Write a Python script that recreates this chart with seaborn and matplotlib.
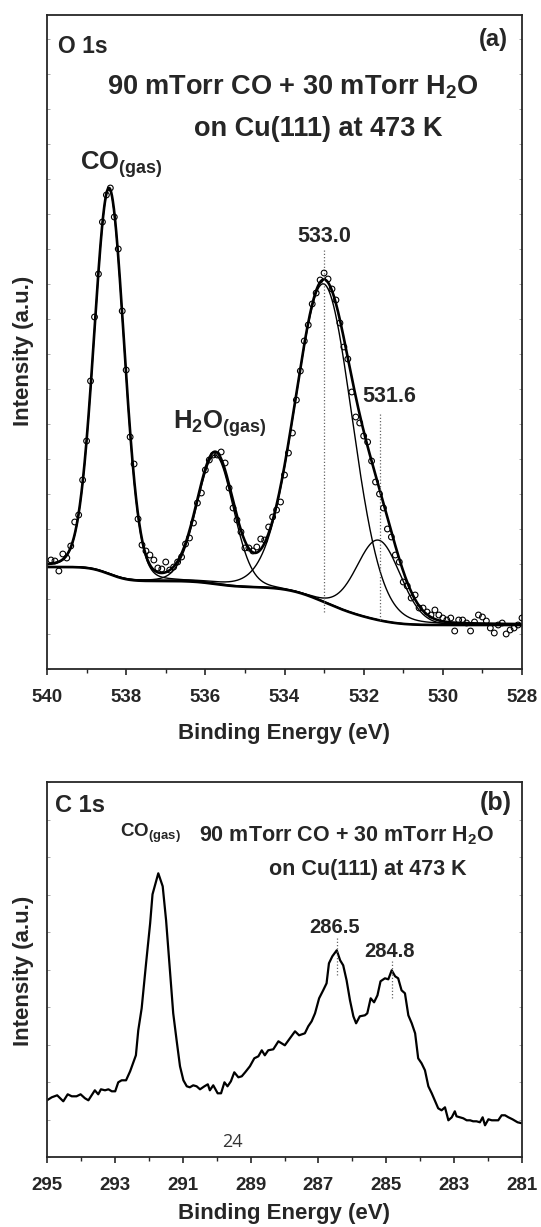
import numpy as np
import pandas as pd
import matplotlib
matplotlib.use("Agg")
import matplotlib.pyplot as plt
import seaborn as sns
from math import erf

sns.set_style("ticks")
plt.rcParams["font.family"] = ["Liberation Sans", "DejaVu Sans"]
plt.rcParams["font.weight"] = "bold"
plt.rcParams["mathtext.fontset"] = "custom"
plt.rcParams["mathtext.rm"] = "Liberation Sans:bold"
plt.rcParams["mathtext.bf"] = "Liberation Sans:bold"
plt.rcParams["mathtext.it"] = "Liberation Sans:bold"
plt.rcParams["mathtext.default"] = "bf"
plt.rcParams["axes.linewidth"] = 1.3

# ---------------- Panel (a): O 1s measured points ----------------
o1s_be = [539.9, 539.8, 539.7, 539.6, 539.5, 539.4, 539.3, 539.2, 539.1, 539.0,
          538.9, 538.8, 538.7, 538.6, 538.5, 538.4, 538.3, 538.2, 538.1, 538.0,
          537.9, 537.8, 537.7, 537.6, 537.5, 537.4, 537.3, 537.2, 537.1, 537.0,
          536.9, 536.8, 536.7, 536.6, 536.5, 536.4, 536.3, 536.2, 536.1, 536.0,
          535.9, 535.8, 535.7, 535.6, 535.5, 535.4, 535.3, 535.2, 535.1, 535.0,
          534.9, 534.8, 534.7, 534.6, 534.5, 534.4, 534.3, 534.2, 534.1, 534.0,
          533.9, 533.8, 533.7, 533.6, 533.5, 533.4, 533.3, 533.2, 533.1, 533.0,
          532.9, 532.8, 532.7, 532.6, 532.5, 532.4, 532.3, 532.2, 532.1, 532.0,
          531.9, 531.8, 531.7, 531.6, 531.5, 531.4, 531.3, 531.2, 531.1, 531.0,
          530.9, 530.8, 530.7, 530.6, 530.5, 530.4, 530.3, 530.2, 530.1, 530.0,
          529.9, 529.8, 529.7, 529.6, 529.5, 529.4, 529.3, 529.2, 529.1, 529.0,
          528.9, 528.8, 528.7, 528.6, 528.5, 528.4, 528.3, 528.2, 528.1, 528.0]
o1s_int = [109, 108, 98, 115, 111, 123, 147, 154, 189, 228,
           288, 352, 395, 447, 474, 481, 452, 420, 358, 299,
           232, 205, 150, 124, 118, 114, 109, 101, 100, 107,
           99, 102, 107, 112, 125, 131, 146, 166, 176, 199,
           209, 214, 214, 217, 206, 181, 161, 149, 137, 121,
           121, 118, 122, 130, 129, 142, 152, 159, 167, 194,
           216, 236, 269, 298, 328, 344, 365, 376, 389, 396,
           390, 380, 369, 346, 322, 310, 277, 252, 246, 233,
           227, 208, 187, 175, 161, 140, 132, 114, 107, 87,
           83, 71, 74, 61, 61, 57, 54, 59, 54, 51,
           49, 51, 38, 49, 49, 46, 38, 47, 54, 52,
           48, 41, 36, 44, 46, 35, 39, 41, 44, 51]

# Fitted peak parameters: CO(gas), H2O(gas), 533.0, 531.6
fit_names = ["CO(gas)", "H2O(gas)", "533.0", "531.6"]
fit_centers = [538.43, 535.75, 533.0, 531.62]
fit_heights = [385, 129, 318, 80]
fit_sigmas = [0.38, 0.46, 0.72, 0.55]
fit_eta = [0.08, 0.08, 0.08, 0.05]
bg_steps = [14, 6, 30, 8]
bg_low = 44

# peak markers (dotted lines) in panel (a)
o1s_marks = [533.0, 531.6]
o1s_mark_top = [419, 256]
o1s_mark_bot = [57, 49]

# ---------------- Panel (b): C 1s spectrum ----------------
c1s_be = [295.0, 294.86, 294.70, 294.52, 294.39, 294.27, 294.13, 294.01, 293.88, 293.78,
          293.59, 293.49, 293.41, 293.29, 293.19, 293.09, 292.99, 292.90, 292.80, 292.67,
          292.55, 292.38, 292.31, 292.21, 292.08, 291.96, 291.89, 291.72, 291.59, 291.49,
          291.37, 291.28, 291.18, 291.08, 290.98, 290.88, 290.79, 290.69, 290.59, 290.49,
          290.36, 290.26, 290.20, 290.10, 289.97, 289.87, 289.77, 289.68, 289.58, 289.48,
          289.36, 289.26, 289.16, 289.02, 288.89, 288.77, 288.67, 288.58, 288.48, 288.33,
          288.18, 287.99, 287.84, 287.69, 287.57, 287.40, 287.30, 287.20, 287.10, 286.98,
          286.86, 286.76, 286.69, 286.59, 286.46, 286.36, 286.27, 286.17, 286.07, 285.97,
          285.89, 285.78, 285.63, 285.56, 285.46, 285.36, 285.26, 285.17, 285.04, 284.94,
          284.84, 284.74, 284.65, 284.55, 284.45, 284.35, 284.25, 284.15, 284.06, 283.96,
          283.86, 283.76, 283.66, 283.56, 283.47, 283.37, 283.27, 283.17, 283.07, 282.98,
          282.93, 282.83, 282.73, 282.63, 282.53, 282.44, 282.34, 282.24, 282.16, 282.09,
          281.99, 281.89, 281.80, 281.70, 281.60, 281.50, 281.40, 281.28, 281.13, 281.00]
c1s_int = [57, 60, 62, 56, 63, 61, 61, 63, 59, 57,
           67, 63, 68, 67, 68, 66, 66, 75, 77, 77,
           86, 102, 127, 149, 194, 234, 263, 284, 271, 237,
           184, 144, 117, 91, 77, 71, 70, 72, 71, 68,
           71, 73, 67, 72, 64, 64, 75, 71, 76, 85,
           80, 81, 85, 91, 99, 101, 107, 102, 107, 108,
           116, 112, 119, 126, 122, 124, 131, 136, 144, 159,
           167, 174, 194, 201, 207, 197, 192, 177, 157, 141,
           134, 141, 142, 144, 159, 155, 162, 176, 179, 178,
           187, 181, 179, 167, 164, 142, 134, 124, 99, 94,
           87, 71, 64, 56, 49, 47, 50, 37, 40, 46,
           41, 40, 39, 37, 37, 36, 36, 35, 40, 32,
           38, 37, 37, 37, 42, 42, 40, 38, 35, 34]

c1s_marks = [286.46, 284.84]
c1s_mark_top = [221, 197]
c1s_mark_bot = [182, 159]

o1s_ticks = [540, 538, 536, 534, 532, 530, 528]
c1s_ticks = [295, 293, 291, 289, 287, 285, 283, 281]

# ---------------- build fit curves ----------------
x_fit = np.linspace(540.0, 528.0, 1201)
erfv = np.vectorize(erf)


def pvoigt(x, c, h, s, eta):
    g = np.exp(-0.5 * ((x - c) / s) ** 2)
    gam = s * np.sqrt(2 * np.log(2))
    lor = 1.0 / (1.0 + ((x - c) / gam) ** 2)
    return h * ((1 - eta) * g + eta * lor)


background = np.full_like(x_fit, float(bg_low))
for c, s, st in zip(fit_centers, fit_sigmas, bg_steps):
    background += st * 0.5 * (1 + erfv((x_fit - c) / (s * np.sqrt(2))))

components = [pvoigt(x_fit, c, h, s, e) for c, h, s, e in
              zip(fit_centers, fit_heights, fit_sigmas, fit_eta)]
envelope = background + np.sum(components, axis=0)

df_o = pd.DataFrame({"be": o1s_be, "intensity": o1s_int})
df_c = pd.DataFrame({"be": c1s_be, "intensity": c1s_int})

# ---------------- figure ----------------
W, H = 541, 1227
fig = plt.figure(figsize=(W / 100, H / 100), dpi=100)
ax1 = fig.add_axes([47 / W, 1 - 669 / H, 475 / W, 654 / H])
ax2 = fig.add_axes([47 / W, 1 - 1157.3 / H, 475 / W, 375 / H])


def ftext(x, y, s, **kw):
    fig.text(x / W, 1 - y / H, s, **kw)


# panel (a)
sns.lineplot(x=x_fit, y=background, ax=ax1, color="black", lw=1.9, estimator=None, sort=False)
for comp in components:
    sns.lineplot(x=x_fit, y=background + comp, ax=ax1, color="black", lw=1.0,
                 estimator=None, sort=False)
sns.lineplot(x=x_fit, y=envelope, ax=ax1, color="black", lw=1.9, estimator=None, sort=False)
sns.scatterplot(data=df_o, x="be", y="intensity", ax=ax1, marker="o", s=17,
                facecolor="none", edgecolor="black", linewidth=0.8, zorder=5)
ax1.vlines(o1s_marks, o1s_mark_bot, o1s_mark_top, colors="#666666",
           linestyles=(0, (1, 1.6)), lw=0.9)

ax1.set_xlim(540, 528)
ax1.set_ylim(0, 654)

# panel (b)
sns.lineplot(data=df_c, x="be", y="intensity", ax=ax2, color="black", lw=1.6,
             estimator=None, sort=False)
ax2.vlines(c1s_marks, c1s_mark_bot, c1s_mark_top, colors="#666666",
           linestyles=(0, (1, 1.6)), lw=0.9)
ax2.set_xlim(295, 281)
ax2.set_ylim(0, 375)

for ax, ticks, ystep in [(ax1, o1s_ticks, 35), (ax2, c1s_ticks, 37.5)]:
    ax.set_xticks(ticks)
    ax.set_xticklabels([str(t) for t in ticks], fontsize=13.5, fontweight="bold")
    ax.xaxis.set_minor_locator(matplotlib.ticker.MultipleLocator(1))
    ax.tick_params(axis="x", which="major", direction="out", length=4.5, width=1.2,
                   pad=10, top=False)
    ax.tick_params(axis="x", which="minor", direction="out", length=2.6, width=1.0, top=False)
    ax.yaxis.set_major_locator(matplotlib.ticker.MultipleLocator(ystep))
    ax.tick_params(axis="y", which="major", direction="in", length=2.5, width=0.6,
                   color="#9a9a9a", left=True, right=True, labelleft=False)
    ax.set_xlabel("Binding Energy (eV)", fontsize=16, fontweight="bold")
    ax.set_ylabel("Intensity (a.u.)", fontsize=16, fontweight="bold")
    for sp in ax.spines.values():
        sp.set_visible(True)
        sp.set_linewidth(1.3)

ax1.xaxis.set_label_coords(0.5, -0.082)
ax1.yaxis.set_label_coords(-0.027, 0.486)
ax2.xaxis.set_label_coords(0.5, -0.122)
ax2.yaxis.set_label_coords(-0.027, 0.497)

# ---------------- annotations panel (a) ----------------
ftext(58, 53, "O 1s", fontsize=16.5, fontweight="bold", ha="left", va="baseline")
ftext(508, 39.5, "(a)", fontsize=17, fontweight="bold", ha="right", va="center")
ftext(292.7, 94.5, r"90 mTorr CO + 30 mTorr H$_{2}$O", fontsize=19.5,
      fontweight="bold", ha="center", va="baseline")
ftext(318.7, 136.5, "on Cu(111) at 473 K", fontsize=19.5, fontweight="bold",
      ha="center", va="baseline")
ftext(80.4, 170, r"CO$_{(gas)}$", fontsize=18.5, fontweight="bold", ha="left", va="baseline")
ftext(173.3, 428.3, r"H$_{2}$O$_{(gas)}$", fontsize=18.5, fontweight="bold", ha="left",
      va="baseline")
ftext(324, 241.7, "533.0", fontsize=15.5, fontweight="bold", ha="center", va="baseline")
ftext(389.7, 401.7, "531.6", fontsize=15.5, fontweight="bold", ha="center", va="baseline")

# ---------------- annotations panel (b) ----------------
ftext(54.6, 811.7, "C 1s", fontsize=17, fontweight="bold", ha="left", va="baseline")
ftext(512, 803, "(b)", fontsize=18, fontweight="bold", ha="right", va="center")
ftext(120, 836.7, r"CO$_{(gas)}$", fontsize=13.5, fontweight="bold", ha="left", va="baseline")
ftext(347, 841.7, r"90 mTorr CO + 30 mTorr H$_{2}$O", fontsize=15.5, fontweight="bold",
      ha="center", va="baseline")
ftext(367.8, 875, "on Cu(111) at 473 K", fontsize=15.5, fontweight="bold",
      ha="center", va="baseline")
ftext(334.7, 933.3, "286.5", fontsize=14.5, fontweight="bold", ha="center", va="baseline")
ftext(389.3, 956.7, "284.8", fontsize=14.5, fontweight="bold", ha="center", va="baseline")
ftext(232, 1146.7, "24", fontsize=13, fontweight="normal", color="#333333",
      family=["Open Sans", "DejaVu Sans"], ha="center", va="baseline")

fig.savefig("out.png", dpi=100)
